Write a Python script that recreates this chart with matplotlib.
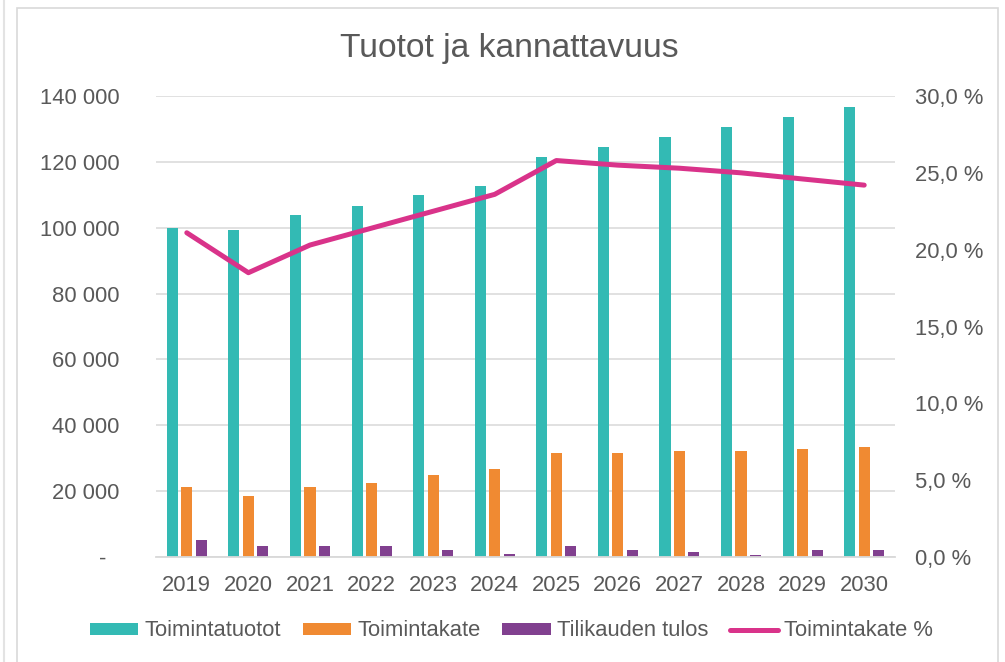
import matplotlib
matplotlib.use("Agg")
import matplotlib.pyplot as plt
import numpy as np
from matplotlib.patches import Patch, Rectangle
from matplotlib.lines import Line2D

years = ["2019", "2020", "2021", "2022", "2023", "2024",
         "2025", "2026", "2027", "2028", "2029", "2030"]
toimintatuotot = [100000, 99300, 103900, 106500, 109800, 112600,
                  121600, 124400, 127500, 130700, 133700, 136800]
toimintakate = [21200, 18600, 21200, 22500, 25000, 26800,
                31500, 31500, 32200, 32300, 32900, 33500]
tilikauden_tulos = [5300, 3200, 3200, 3200, 2100, 800,
                    3200, 2100, 1400, 700, 2000, 2000]
toimintakate_pct = [21.1, 18.5, 20.3, 21.4, 22.5, 23.6,
                    25.8, 25.5, 25.3, 25.0, 24.6, 24.2]

left_ticks = [0, 20000, 40000, 60000, 80000, 100000, 120000, 140000]
left_labels = ["-", "20 000", "40 000", "60 000", "80 000", "100 000", "120 000", "140 000"]
right_ticks = [0, 5, 10, 15, 20, 25, 30]
right_labels = ["0,0 %", "5,0 %", "10,0 %", "15,0 %", "20,0 %", "25,0 %", "30,0 %"]

C_TEAL = "#33BAB4"
C_ORANGE = "#F08A32"
C_PURPLE = "#81408F"
C_PINK = "#D9338A"
C_TEXT = "#595959"
C_GRID = "#D9D9D9"

plt.rcParams.update({
    "font.family": ["Liberation Sans", "DejaVu Sans"],
    "font.size": 15.8,
    "text.color": C_TEXT,
    "xtick.color": C_TEXT,
    "ytick.color": C_TEXT,
})

W, H = 1005, 662
fig = plt.figure(figsize=(W / 100, H / 100), dpi=100)
ax = fig.add_axes([156 / W, 1 - 557 / H, (895 - 156) / W, (557 - 96) / H])

x = np.arange(len(years))
bw = 0.18
step = 0.235
ax.bar(x - step, toimintatuotot, bw, color=C_TEAL, zorder=2)
ax.bar(x, toimintakate, bw, color=C_ORANGE, zorder=2)
ax.bar(x + step, tilikauden_tulos, bw, color=C_PURPLE, zorder=2)

ax.set_xlim(-0.5, len(years) - 0.5)
ax.set_ylim(0, 140000)
ax.set_xticks(x)
ax.set_xticklabels(years)
ax.set_yticks(left_ticks)
ax.set_yticklabels(left_labels)
ax.tick_params(axis="x", length=0, pad=13)
ax.tick_params(axis="y", length=0, pad=26.5)
ax.yaxis.get_major_ticks()[0].set_pad(36)
ax.grid(axis="y", color=C_GRID, lw=1.1, zorder=0)
ax.set_axisbelow(True)
for s in ["top", "left", "right"]:
    ax.spines[s].set_visible(False)
ax.spines["bottom"].set_color(C_GRID)
ax.spines["bottom"].set_linewidth(1.3)

ax2 = ax.twinx()
ax2.plot(x, toimintakate_pct, color=C_PINK, lw=3.6, solid_joinstyle="round",
         solid_capstyle="round")
ax2.set_ylim(0, 30)
ax2.set_yticks(right_ticks)
ax2.set_yticklabels(right_labels)
ax2.tick_params(axis="y", length=0, pad=14.5)
for s in ax2.spines.values():
    s.set_visible(False)

fig.text(0.507, 1 - 48 / H, "Tuotot ja kannattavuus", ha="center", va="center",
         fontsize=24.2, color=C_TEXT)

handles = [
    Patch(facecolor=C_TEAL, label="Toimintatuotot"),
    Patch(facecolor=C_ORANGE, label="Toimintakate"),
    Patch(facecolor=C_PURPLE, label="Tilikauden tulos"),
    Line2D([0], [0], color=C_PINK, lw=3.6, solid_capstyle="round", label="Toimintakate %"),
]
fig.legend(handles=handles, loc="center", bbox_to_anchor=(0.509, 1 - 631 / H),
           ncol=4, frameon=False, handlelength=2.2, handleheight=0.45,
           handletextpad=0.28, columnspacing=1.0, fontsize=15.8)

# chart frame (screenshot borders)
fig.add_artist(Rectangle((16.5 / W, -0.05), (998 - 16.5) / W, 1.05 - 7.5 / H,
                         transform=fig.transFigure, fill=False,
                         edgecolor=C_GRID, lw=1.2))
fig.add_artist(Line2D([3.5 / W, 3.5 / W], [0, 1], transform=fig.transFigure,
                      color="#E3E3E3", lw=1.5))

fig.savefig("out.png", dpi=100)
